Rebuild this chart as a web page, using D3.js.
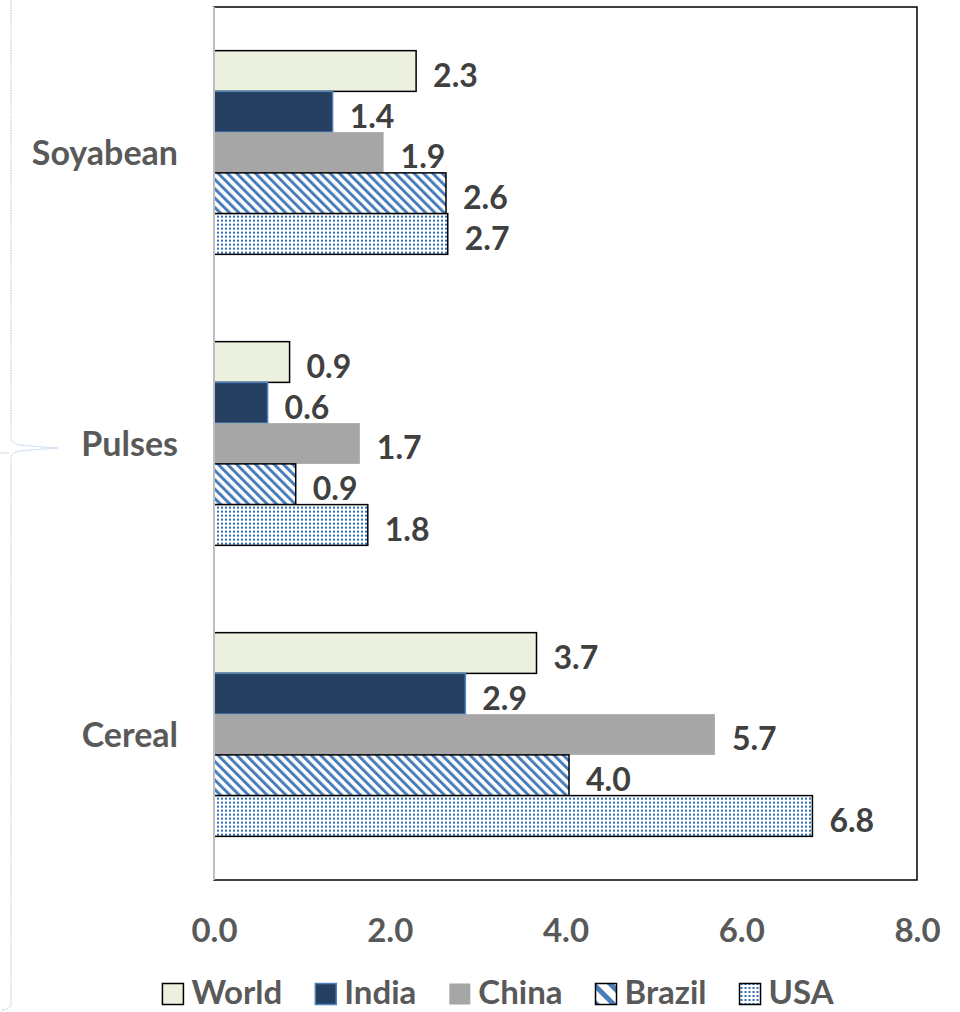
<!DOCTYPE html>
<html>
<head>
<meta charset="utf-8">
<script src="https://cdn.jsdelivr.net/npm/d3@7"></script>
<style>
  html, body { margin: 0; padding: 0; background: #fff; }
  svg { display: block; font-family: Lato, "Open Sans", sans-serif; font-weight: 700; }
</style>
</head>
<body>
<svg id="chart" width="960" height="1012"></svg>
<script>
// ---- data ----
const categories = ["Soyabean", "Pulses", "Cereal"];
const seriesNames = ["World", "India", "China", "Brazil", "USA"];
const worldValues  = [2.30, 0.86, 3.67];
const indiaValues  = [1.35, 0.61, 2.86];
const chinaValues  = [1.93, 1.66, 5.70];
const brazilValues = [2.64, 0.93, 4.04];
const usaValues    = [2.66, 1.75, 6.81];
const xTicks = [0, 2, 4, 6, 8];

const seriesValues = [worldValues, indiaValues, chinaValues, brazilValues, usaValues];

// ---- layout ----
const svg = d3.select("#chart");
const plot = { left: 214, right: 917, top: 7, bottom: 880 };

const x = d3.scaleLinear().domain([0, 8]).range([plot.left, plot.right]);
const y = d3.scaleBand().domain(categories).range([plot.top, plot.bottom])
  .paddingInner(0.3).paddingOuter(0.15);
const ySub = d3.scaleBand().domain(seriesNames).range([0, y.bandwidth()]);

// ---- patterns ----
const defs = svg.append("defs");
const stripe = defs.append("pattern").attr("id", "stripes")
  .attr("patternUnits", "userSpaceOnUse")
  .attr("width", 6.6).attr("height", 6.6)
  .attr("patternTransform", "rotate(-45)");
stripe.append("rect").attr("width", 6.6).attr("height", 6.6).attr("fill", "#ffffff");
stripe.append("rect").attr("width", 3.0).attr("height", 6.6).attr("fill", "#4a7ebb");

const dots = defs.append("pattern").attr("id", "dots")
  .attr("patternUnits", "userSpaceOnUse")
  .attr("width", 4).attr("height", 4);
dots.append("rect").attr("width", 4).attr("height", 4).attr("fill", "#ffffff");
dots.append("rect").attr("x", 1).attr("y", 1).attr("width", 2).attr("height", 2).attr("fill", "#2f6fba");

const legendStripe = defs.append("pattern").attr("id", "stripesLegend")
  .attr("patternUnits", "userSpaceOnUse")
  .attr("width", 12).attr("height", 12)
  .attr("patternTransform", "rotate(-45)");
legendStripe.append("rect").attr("width", 12).attr("height", 12).attr("fill", "#ffffff");
legendStripe.append("rect").attr("x", 3).attr("width", 5).attr("height", 12).attr("fill", "#4a7ebb");

const styles = {
  World:  { fill: "#ebf1de", stroke: "#000000", sw: 1.5 },
  India:  { fill: "#243f60", stroke: "#4f81bd", sw: 1.5 },
  China:  { fill: "#a6a6a6", stroke: "none",    sw: 0 },
  Brazil: { fill: "url(#stripes)", stroke: "#000000", sw: 1.5 },
  USA:    { fill: "url(#dots)",    stroke: "#000000", sw: 1.5 }
};

// ---- left brace decoration ----
svg.append("path")
  .attr("d", "M11,0 L11,438 Q11,443 20,445 Q40,447 58,448 Q40,449 20,451 Q11,453 11,458 L11,1004 Q11,1009 2,1010")
  .attr("fill", "none").attr("stroke", "#a9c8ec").attr("stroke-width", 1)
  .attr("stroke-dasharray", "1.5,1");
svg.append("line").attr("x1", 0).attr("x2", 9).attr("y1", 453).attr("y2", 453)
  .attr("stroke", "#d9d9d9").attr("stroke-width", 1);

// ---- plot frame ----
svg.append("rect")
  .attr("x", plot.left).attr("y", plot.top)
  .attr("width", plot.right - plot.left).attr("height", plot.bottom - plot.top)
  .attr("fill", "none").attr("stroke", "#000").attr("stroke-width", 1.5);

// ---- bars ----
const fmt = d3.format(".1f");
const groups = svg.append("g").selectAll("g").data(categories).join("g")
  .attr("transform", c => `translate(0,${y(c)})`);

groups.each(function(c, ci) {
  const g = d3.select(this);
  seriesNames.forEach((s, si) => {
    const v = seriesValues[si][ci];
    const st = styles[s];
    g.append("rect")
      .attr("x", x(0))
      .attr("y", ySub(s))
      .attr("width", x(v) - x(0))
      .attr("height", ySub.bandwidth())
      .attr("fill", st.fill)
      .attr("stroke", st.stroke)
      .attr("stroke-width", st.sw);
    g.append("text")
      .attr("x", x(v) + 17)
      .attr("y", ySub(s) + ySub.bandwidth() / 2 + 16)
      .attr("fill", "#404040")
      .attr("font-size", 32)
      .text(fmt(v));
  });
});

// ---- y axis line (gray) ----
svg.append("line")
  .attr("x1", plot.left).attr("x2", plot.left)
  .attr("y1", plot.top).attr("y2", plot.bottom)
  .attr("stroke", "#bfbfbf").attr("stroke-width", 2);

// ---- category labels ----
const yAxis = d3.axisLeft(y).tickSize(0).tickPadding(0);
const yg = svg.append("g").attr("transform", `translate(178,0)`).call(yAxis);
yg.select(".domain").remove();
yg.selectAll("text")
  .attr("font-size", 34).attr("font-family", "Lato, 'Open Sans', sans-serif")
  .attr("font-weight", 700)
  .attr("fill", "#595959").attr("dy", null)
  .attr("y", 12).attr("text-anchor", "end");

// ---- x axis tick labels ----
const xAxis = d3.axisBottom(x).tickValues(xTicks).tickFormat(d3.format(".1f")).tickSize(0).tickPadding(0);
const xg = svg.append("g").attr("transform", `translate(0,${plot.bottom})`).call(xAxis);
xg.select(".domain").remove();
xg.selectAll("text")
  .attr("font-size", 33).attr("font-family", "Lato, 'Open Sans', sans-serif")
  .attr("font-weight", 700)
  .attr("fill", "#595959").attr("dy", null).attr("y", 62);

// ---- legend ----
const legend = svg.append("g");
const sw = 21, swGap = 8, itemGap = 33;
let cx = 0;
seriesNames.forEach(s => {
  const it = legend.append("g");
  const st = styles[s];
  it.append("rect").attr("x", 0).attr("y", -sw / 2).attr("width", sw).attr("height", sw)
    .attr("fill", s === "Brazil" ? "url(#stripesLegend)" : st.fill)
    .attr("stroke", s === "China" ? "none" : st.stroke)
    .attr("stroke-width", 1.5);
  const t = it.append("text").attr("x", sw + swGap).attr("y", 10)
    .attr("font-size", 33).attr("fill", "#595959").text(s);
  const w = sw + swGap + t.node().getComputedTextLength();
  it.attr("transform", `translate(${cx},0)`);
  cx += w + itemGap;
});
const totalW = cx - itemGap;
legend.attr("transform", `translate(${498 - totalW / 2},994)`);
</script>
</body>
</html>
